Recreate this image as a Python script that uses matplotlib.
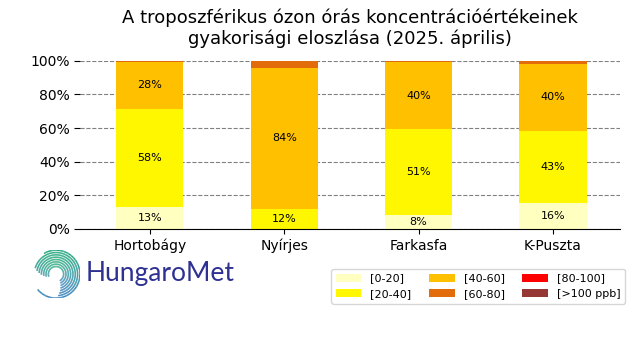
import matplotlib
matplotlib.use("Agg")
import matplotlib.pyplot as plt
from matplotlib.collections import LineCollection
import matplotlib.colors as mcolors
import numpy as np

stations = ["Hortobágy", "Nyírjes", "Farkasfa", "K-Puszta"]
categories = ["[0-20]", "[20-40]", "[40-60]", "[60-80]", "[80-100]", "[>100 ppb]"]
colors = ["#FFFFC0", "#FFF700", "#FFC000", "#E36C0A", "#FF0000", "#953735"]
v_0_20 = [13.3, 0.0, 8.3, 15.7]
v_20_40 = [57.9, 11.9, 51.2, 42.6]
v_40_60 = [28.4, 84.1, 39.6, 39.9]
v_60_80 = [0.4, 4.0, 0.9, 1.8]
v_80_100 = [0, 0, 0, 0]
v_100 = [0, 0, 0, 0]
series = [v_0_20, v_20_40, v_40_60, v_60_80, v_80_100, v_100]

fig = plt.figure(figsize=(6.4, 3.6), dpi=100)
ax = fig.add_axes([0.125, 0.364, 0.844, 0.467])

x = np.arange(len(stations))
bottom = np.zeros(len(stations))
handles = []
for vals, col, lab in zip(series, colors, categories):
    v = np.array(vals, dtype=float) / 100.0
    b = ax.bar(x, v, 0.5, bottom=bottom, color=col, label=lab, zorder=2)
    handles.append(b)
    for xi, vi, bi in zip(x, v, bottom):
        if vi >= 0.05:
            ax.text(xi, bi + vi / 2, f"{int(round(vi*100))}%", ha="center",
                    va="center", fontsize=8, zorder=3)
    bottom += v

ax.set_xlim(-0.52, 3.5)
ax.set_ylim(0, 1)
ax.set_xticks(x)
ax.set_xticklabels(stations, fontsize=10)
ax.set_yticks(np.linspace(0, 1, 6))
ax.set_yticklabels([f"{int(round(t*100))}%" for t in np.linspace(0, 1, 6)], fontsize=10)
ax.yaxis.grid(True, linestyle="--", color="gray", linewidth=0.8, zorder=0)
ax.set_axisbelow(True)
for s in ["top", "right", "left"]:
    ax.spines[s].set_visible(False)
ax.tick_params(axis="y", length=4, color="black")
ax.set_title("A troposzférikus ózon órás koncentrációértékeinek\ngyakorisági eloszlása (2025. április)",
             fontsize=13, pad=12)

fig.legend(handles=handles, labels=categories, ncol=3, fontsize=8,
           loc="upper right", bbox_to_anchor=(0.985, 0.268), frameon=True,
           columnspacing=1.6, handlelength=2.3, handleheight=0.7)

# Logo: spiral of arcs
lax = fig.add_axes([0.050, 0.172, 0.075, 0.133])
lax.set_xlim(-1, 1)
lax.set_ylim(-1, 1)
lax.set_aspect("equal")
lax.axis("off")
green = np.array(mcolors.to_rgb("#10A070"))
blue = np.array(mcolors.to_rgb("#2A78B8"))
n = 8
for i in range(n):
    r = 0.32 + i * (0.68 / (n - 1))
    if i == n - 1:
        t1, t2 = 220, 120 + 360
    else:
        t1 = 300 - i * 4
        t2 = 200 + 360 - i * 6
    th = np.radians(np.linspace(t1, t2, 120))
    pts = np.column_stack([r * np.cos(th), r * np.sin(th)])
    segs = np.stack([pts[:-1], pts[1:]], axis=1)
    w = (np.sin(th[:-1]) + 1) / 2
    cols = [tuple(green * wi + blue * (1 - wi)) for wi in w]
    lax.add_collection(LineCollection(segs, colors=cols, linewidths=1.1))
fig.text(0.134, 0.240, "HungaroMet", fontsize=19, color="#2E3192",
         family="Lato", weight="normal", va="center", ha="left")

fig.savefig("out.png", dpi=100)
